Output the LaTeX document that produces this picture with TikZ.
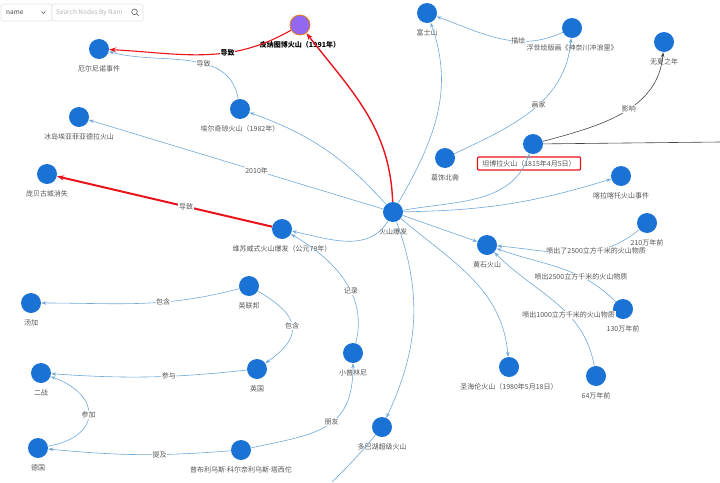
\documentclass[tikz,border=0pt]{standalone}
\usepackage{fontspec}
\setmainfont{Noto Sans CJK SC}
\newfontfamily\latinf{Noto Sans}
\usetikzlibrary{arrows.meta, positioning}
\definecolor{kNode}{HTML}{1A73D4}
\definecolor{kEdge}{HTML}{6FA8D8}
\definecolor{kRed}{HTML}{E8141C}
\definecolor{kPurple}{HTML}{9467F0}
\definecolor{kText}{HTML}{555555}
\definecolor{kDark}{HTML}{444444}
\definecolor{kUi}{HTML}{E2E2E2}

\begin{document}
\begin{tikzpicture}[x=1pt, y=1pt,
      every label/.append style={yshift=-5pt},
      nd/.style={circle, fill=kNode, minimum size=20pt, inner sep=0pt},
      lb/.style={font=\fontsize{7}{8}\selectfont, text=kText, inner sep=1pt},
      el/.style={font=\fontsize{7}{8}\selectfont, text=kText, fill=white, inner sep=0.6pt},
      ed/.style={draw=kEdge, line width=0.6pt, -{Stealth[length=5pt, width=3.5pt]}},
      rd/.style={draw=kRed, line width=1.4pt, -{Stealth[length=7pt, width=5pt]}},
      dk/.style={draw=kDark, line width=0.6pt, -{Stealth[length=5pt, width=3.5pt]}},
      uibox/.style={draw=kUi, fill=white, rounded corners=1.5pt, line width=0.6pt}]
    \useasboundingbox (0,0) rectangle (720,-482);

    % search bar
    \draw[uibox] (1,-4) rectangle (52,-21);
    \draw[uibox] (52,-4) rectangle (143,-21);
    \node[anchor=west, font=\fontsize{6.5}{7}\selectfont, text=kDark, inner sep=0pt] (selname) at (6,-12.5) {name};
    \draw[kText, line width=0.5pt] (41.5,-11.5) -- (43.5,-13.5) -- (45.5,-11.5);
    \node[anchor=west, font=\fontsize{6.5}{7}\selectfont, text=black!28, inner sep=0pt] (search) at (56,-12.5) {Search Nodes By Nam};
    \draw[kText, line width=0.6pt] (134.5,-11.8) circle (2.8pt) (136.5,-13.8) -- (138.5,-15.8);

    \node[nd, fill=kPurple, draw=orange!60!brown, line width=0.8pt,
          label={[lb, text=black, font=\fontsize{7}{8}\selectfont\bfseries]below:皮纳图博火山（1991年）}] (pina) at (300,-25) {};
    \node[nd, label={[lb]below:厄尔尼诺事件}]              (elnino)  at (99,-49)  {};
    \node[nd, label={[lb]below:埃尔奇琼火山（1982年）}]     (chichon) at (240,-109) {};
    \node[nd, label={[lb]below:冰岛埃亚菲亚德拉火山}]       (eyja)    at (79,-117) {};
    \node[nd, label={[lb]below:庞贝古城消失}]              (pompeii) at (47,-174) {};
    \node[nd, label={[lb]below:维苏威式火山爆发（公元79年）}] (vesuv) at (282,-229) {};
    \node[nd, label={[lb]below:火山爆发}]                  (erupt)   at (393,-212) {};
    \node[nd, label={[lb]below:富士山}]                    (fuji)    at (427,-13) {};
    \node[nd, label={[lb]below:浮世绘版画《神奈川冲浪里》}]  (wave)    at (572,-28) {};
    \node[nd, label={[lb]below:无夏之年}]                  (summer)  at (664,-42) {};
    \node[nd]                                              (tambora) at (533,-144) {};
    \node[lb, draw=kRed, line width=1.2pt, rounded corners=1pt, minimum width=103pt,
          minimum height=13pt, inner sep=0pt] (tamboralbl) at (529,-163.5) {坦博拉火山（1815年4月5日）};
    \node[nd, label={[lb]below:葛饰北斋}]                  (hokusai) at (445,-158) {};
    \node[nd, label={[lb]below:喀拉喀托火山事件}]           (krakatoa) at (621,-176) {};
    \node[nd, label={[lb]below:黄石火山}]                  (yellow)  at (487,-245) {};
    \node[nd, label={[lb]below:210万年前}]                 (ma210)   at (647,-223) {};
    \node[nd, label={[lb]below:130万年前}]                 (ma130)   at (623,-309) {};
    \node[nd, label={[lb]below:64万年前}]                  (ma64)    at (596,-376) {};
    \node[nd, label={[lb]below:圣海伦火山（1980年5月18日）}] (helens) at (509,-367) {};
    \node[nd, label={[lb]below:多巴湖超级火山}]             (toba)    at (382,-427) {};
    \node[nd, label={[lb]below:小普林尼}]                  (pliny)   at (353,-353) {};
    \node[nd, label={[lb]below:普布利乌斯{\latinf ·}科尔奈利乌斯{\latinf ·}塔西佗}] (tacitus) at (241,-450) {};
    \node[nd, label={[lb]below:英联邦}]                    (commonw) at (249,-286) {};
    \node[nd, label={[lb]below:英国}]                      (uk)      at (257,-369) {};
    \node[nd, label={[lb]below:汤加}]                      (tonga)   at (31,-303) {};
    \node[nd, label={[lb]below:二战}]                      (ww2)     at (41,-373) {};
    \node[nd, label={[lb]below:德国}]                      (germany) at (38,-448) {};
    \coordinate (offright)  at (720,-142);
    \coordinate (offbottom) at (332,-482);

    \draw[rd] (erupt) to[out=92, in=-52] (pina);
    \draw[rd, line width=1.1pt] (pina) to[out=-150, in=-3]
      node[el, pos=0.36, text=black, font=\fontsize{7}{8}\selectfont\bfseries] {导致} (elnino);
    \draw[ed] (chichon) to[out=100, in=-15] node[el, pos=0.4] {导致} (elnino);
    \draw[ed] (erupt) to[out=132, in=-20] (chichon);
    \draw[ed] (erupt) -- node[el, pos=0.43] {2010年} (eyja);
    \draw[rd, line width=2pt] (vesuv) -- node[el, pos=0.4] {导致} (pompeii);
    \draw[ed] (erupt) to[out=-120, in=-12] (vesuv);
    \draw[ed] (erupt) to[out=60, in=-70] (fuji);
    \draw[ed] (wave) to[out=-155, in=-20] node[el, pos=0.35] {描绘} (fuji);
    \draw[ed] (hokusai) to[out=25, in=-95] node[el, pos=0.55] {画家} (wave);
    \draw[dk] (tambora) to[out=15, in=-95] node[el, pos=0.55] {影响} (summer);
    \draw[kDark, line width=0.6pt] (tambora) -- (offright);
    \draw[ed] (erupt) to[out=10, in=-110] (tambora);
    \draw[ed] (erupt) to[bend right=8] (krakatoa);
    \draw[ed] (erupt) -- (yellow);
    \draw[ed] (ma210) to[out=-140, in=-5] node[el, pos=0.33] {喷出了2500立方千米的火山物质} (yellow);
    \draw[ed] (ma130) to[out=135, in=-20] node[el, pos=0.32] {喷出2500立方千米的火山物质} (yellow);
    \draw[ed] (ma64) to[out=100, in=-45] node[el, pos=0.38] {喷出1000立方千米的火山物质} (yellow);
    \draw[ed] (erupt) to[out=-40, in=95] (helens);
    \draw[ed] (erupt) to[out=-70, in=65] (toba);
    \draw[kEdge, line width=0.6pt] (toba) to[bend left=3] (offbottom);
    \draw[ed] (pliny) to[out=75, in=-30] node[el, pos=0.4] {记录} (vesuv);
    \draw[ed] (tacitus) to[out=12, in=-90, looseness=1.3] node[el, pos=0.55] {朋友} (pliny);
    \draw[ed] (tacitus) to[bend left=5] node[el, pos=0.38] {提及} (germany);
    \draw[ed] (germany) to[out=10, in=-20, looseness=2] node[el] {参加} (ww2);
    \draw[ed] (uk) to[bend left=5] node[el, pos=0.39] {参与} (ww2);
    \draw[ed] (commonw) to[out=-30, in=35, looseness=1.7] node[el] {包含} (uk);
    \draw[ed] (commonw) to[out=-165, in=0] node[el, pos=0.38] {包含} (tonga);
  \end{tikzpicture}
\end{document}
